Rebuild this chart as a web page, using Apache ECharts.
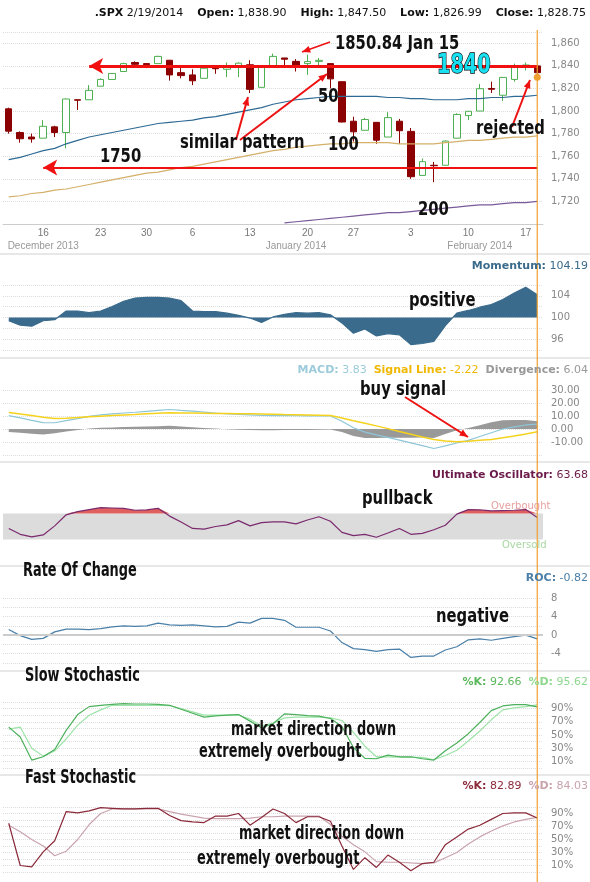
<!DOCTYPE html>
<html>
<head>
<meta charset="utf-8">
<script src="https://cdn.jsdelivr.net/npm/echarts@6/dist/echarts.min.js"></script>
<style>html,body{margin:0;padding:0;background:#fff}#chart{width:590px;height:882px}</style>
</head>
<body>
<div id="chart"></div>
<script>
// trading days
var dates = ['Dec 11','Dec 12','Dec 13','Dec 16','Dec 17','Dec 18','Dec 19','Dec 20','Dec 23','Dec 24','Dec 26','Dec 27','Dec 30','Dec 31',
  'Jan 2','Jan 3','Jan 6','Jan 7','Jan 8','Jan 9','Jan 10','Jan 13','Jan 14','Jan 15','Jan 16','Jan 17','Jan 21','Jan 22','Jan 23','Jan 24',
  'Jan 27','Jan 28','Jan 29','Jan 30','Jan 31','Feb 3','Feb 4','Feb 5','Feb 6','Feb 7','Feb 10','Feb 11','Feb 12','Feb 13','Feb 14','Feb 18','Feb 19'];
var dayLabels = {3:'16', 8:'23', 12:'30', 16:'6', 21:'13', 26:'20', 30:'27', 35:'3', 40:'10', 45:'17'};
var monthLabels = {3:'December 2013', 25:'January 2014', 41:'February 2014'};

// open, close, low, high
var ohlc = [
  [1802,1782.2,1780,1803],[1781,1775.5,1772,1782],[1777,1775.3,1772,1780],[1776,1786.5,1776,1792],[1786,1781,1777,1787],
  [1781,1810.7,1767,1811],[1810,1809.6,1801,1810],[1810,1818.3,1810,1823],[1822,1828,1822,1829],[1828,1833.3,1828,1833.6],
  [1835,1842,1835,1842.8],[1843,1841.4,1839,1844],[1842,1841.1,1838,1842],[1842,1848.4,1842,1849],[1845,1832,1827,1845],
  [1834,1831.4,1829,1838],[1832,1826.8,1823,1837],[1829,1837.9,1829,1840],[1838,1837.5,1833,1840],[1837,1838.5,1830,1843],
  [1840,1842.4,1830,1843],[1841,1819.2,1816,1845],[1821,1838.9,1821,1839],[1840,1848.4,1840,1850.8],[1847,1845.9,1840,1847],
  [1844,1838.7,1835,1846],[1842,1843.8,1832,1850],[1844,1844.9,1840,1847],[1842,1828.5,1820,1842],[1826,1790.3,1790,1826],
  [1791,1781.6,1773,1795],[1783,1792.5,1783,1794],[1790,1774.2,1771,1790],[1777,1794.2,1777,1799],[1791,1782.6,1771,1793],
  [1782,1741.9,1740,1785],[1743,1755.2,1743,1758],[1752,1751.6,1737,1755],[1752,1773.4,1752,1774],[1776,1797,1776,1798],
  [1796,1799.8,1792,1800],[1800,1819.8,1800,1824],[1820,1819.3,1816,1826],[1814,1829.8,1809,1830],[1828,1838.6,1826,1842],
  [1839,1840.8,1836,1843],[1840,1834,1830,1841]
];
var ma50 = [1757,1759,1762,1765,1767,1771,1774,1777,1779,1781,1783,1785,1787,1789,1790,1791,1792,1794,1795,1797,1799,1801,1803,1806,1808,1810,1811,1812,1813,1813,1813,1813,1813,1812,1812,1811,1811,1810,1810,1810,1811,1811,1812,1812,1813,1813,1814];
var ma100 = [1724,1725,1727,1728,1730,1731,1733,1735,1737,1739,1741,1743,1745,1746,1748,1750,1751,1753,1755,1757,1759,1761,1763,1765,1766,1768,1769,1770,1771,1771,1772,1772,1772,1772,1771,1771,1771,1771,1772,1773,1774,1774,1775,1776,1777,1777,1778];
var ma200 = [null,null,null,null,null,null,null,null,null,null,null,null,null,null,null,null,null,null,null,null,null,null,null,null,
  1701,1702,1703,1704,1705,1706,1707,1708,1709,1710,1710,1711,1712,1713,1714,1715,1716,1717,1717,1718,1719,1719,1720];
var priceTicks = [1720,1740,1760,1780,1800,1820,1840,1860];

var momentum = [99.4,98.6,98.4,99.4,99.6,101.2,101.2,100.9,101.2,102,103,103.6,103.7,103.7,103.6,103.1,101.2,101.1,101.1,100.8,100.4,99.9,99.1,100.1,100.6,100.9,100.8,100.9,100.5,99.0,97.1,97.9,96.6,97.0,96.8,95.0,95.2,95.6,98.5,100.8,101.3,101.9,102.4,103.3,104.5,105.6,104.2];
var macd = [10.3,8.6,6.6,4.9,4.8,6.4,8,9.7,10.8,11.6,12.3,12.9,13.6,14.3,15,14.3,13.7,13,12.3,11.7,11.3,10.9,10.5,10.3,10.3,10.2,10.1,10.1,10,6,1,-2.4,-4.5,-6.5,-8.6,-10.7,-12.8,-15,-13,-10.8,-8.7,-5.8,-2.9,0,1.6,3.1,3.8];
var signal = [12.7,11.5,10.3,9.1,8,8.3,8.8,9.4,9.9,10.4,10.8,11.2,11.7,12.1,12.5,12.4,12.3,12.2,12,11.9,11.8,11.7,11.5,11.3,11.1,11,10.8,10.6,10.4,8.4,6.4,4.5,2.4,0.3,-1.9,-4,-6.2,-8,-9.2,-9.8,-9.5,-8.7,-8,-6.7,-5.3,-3.8,-2.2];
var divergence = [-2.4,-2.9,-3.7,-4.2,-3.2,-1.9,-0.8,0.3,0.9,1.2,1.5,1.7,1.9,2.2,2.5,1.9,1.4,0.8,0.3,-0.2,-0.5,-0.8,-1,-1,-0.8,-0.8,-0.7,-0.5,-0.4,-2.4,-5.4,-6.9,-6.9,-6.8,-6.7,-6.7,-6.6,-7,-3.8,-1,0.8,2.9,5.1,6.7,6.9,6.9,6.0];
var ultimate = [47,38,34,37,51,68,73,76,79,78.5,78,75,75.5,78,66,57,47,46,50,52.5,59,51,56,57,57,54,60,65,58,41,36,38,33.5,40,47,38,39.5,45,52,69,76,75.5,74,74.5,75,76,64];
var roc = [1.2,-0.1,-0.9,-0.7,0.7,1.3,1.3,1.2,1.4,1.8,2,1.9,2,2.6,2.2,2.1,2.2,2,1.8,1.9,2.8,2.6,3.6,3.6,3.2,1.7,1.7,1.7,0.9,-1.6,-2.9,-3.1,-3.5,-3.1,-3,-4.8,-4.5,-4.5,-3.2,-2.5,-1,-0.8,-1.1,-0.7,-0.3,0,-0.8];
var slowK = [62,47,12,17,28,57,81,93,95,96.5,97.5,97,97,96.5,95,89,83,77,79,80,81,71,61,67,82,81,79.5,78.5,75,63,31,14.5,14,19.5,17,17,14,12,26,38,52,69,87,94,96,96,92.7];
var slowD = [59,62,30,18,26,44,65,80,88,95,95,95,95,95,94.5,90,85,80,80,80,80,74,64,68,76,77,77,77,76,72,54,33,17,17,16.5,16,16,12.5,19,27,41,56,73,88,91,93,95.6];
var fastK = [75,10,8,31,48,93,91,94,99,98,97,97,98,98,87,79,77,76,86,86,90,72,84,97,90,76,85,85,78,40,4,22,7,26,15,2,13,15,42,54,66,72,81,90,91,91,83];
var fastD = [72,62,50,40,25,32,50,73,90,97,97,97,97,97,93,89,86,83,82,82,82,83,85,85,86,86,86,86,73,55,42,31,16,15,15,14,13,14,22,30,43,54,63,71,77,81,84];

var chart = echarts.init(document.getElementById('chart'));
var LEFT = 3, RIGHT = 47;
var grids = [
  {top: 32, height: 192}, {top: 285, height: 65}, {top: 390, height: 65}, {top: 494, height: 65},
  {top: 598, height: 65}, {top: 702, height: 66}, {top: 807, height: 65}
];
var labelStyle = {color: '#888', fontSize: 10, fontFamily: 'Verdana, DejaVu Sans', margin: 8};
var split = {show: true, lineStyle: {color: '#ddd', type: 'dotted'}};

var xAxes = grids.map(function (g, i) {
  return {type: 'category', gridIndex: i, data: dates, boundaryGap: true,
    axisLine: {show: i === 0, lineStyle: {color: '#ccc'}}, axisTick: {show: false},
    axisLabel: {show: i === 0, color: '#777', fontSize: 10, interval: 0, margin: 4,
      formatter: function (v, idx) { return dayLabels[idx] || ''; }}};
});
xAxes.push({type: 'category', gridIndex: 0, data: dates, position: 'bottom', offset: 13,
  axisLine: {show: false}, axisTick: {show: false},
  axisLabel: {color: '#999', fontSize: 10, interval: 0, margin: 4, formatter: function (v, idx) { return monthLabels[idx] || ''; }}});

function yAx(i, o) {
  return Object.assign({type: 'value', gridIndex: i, position: 'right', scale: true,
    axisLine: {show: false}, axisTick: {show: false}, splitLine: split,
    axisLabel: labelStyle}, o);
}
var yAxes = [
  yAx(0, {min: 1700, max: 1870, interval: 20, axisLabel: Object.assign({}, labelStyle, {
    formatter: function (v) { return priceTicks.indexOf(v) < 0 ? '' : String(v).replace(/(\d)(\d{3})$/, '$1,$2'); }})}),
  yAx(1, {min: 94, max: 106, interval: 2, axisLabel: Object.assign({}, labelStyle, {formatter: function (v) { return v % 4 === 0 ? v : ''; }})}),
  yAx(2, {min: -20, max: 30, interval: 10, axisLabel: Object.assign({}, labelStyle, {formatter: function (v) { return v === -20 ? '' : v.toFixed(2); }})}),
  yAx(3, {min: 0, max: 100, interval: 10, splitLine: {show: false}, axisLabel: {show: false}}),
  yAx(4, {min: -6, max: 8, interval: 2, axisLabel: Object.assign({}, labelStyle, {formatter: function (v) { return v % 4 === 0 ? v : ''; }})}),
  yAx(5, {min: 0, max: 100, interval: 10, axisLabel: Object.assign({}, labelStyle, {formatter: function (v) { return (v / 10) % 2 === 1 ? v + '%' : ''; }})}),
  yAx(6, {min: 0, max: 100, interval: 10, axisLabel: Object.assign({}, labelStyle, {formatter: function (v) { return (v / 10) % 2 === 1 ? v + '%' : ''; }})})
];

function line(i, data, color, extra) {
  return Object.assign({type: 'line', xAxisIndex: i, yAxisIndex: i, data: data, symbol: 'none',
    lineStyle: {color: color, width: 1.2}, itemStyle: {color: color}, silent: true}, extra);
}

var series = [
  {type: 'candlestick', xAxisIndex: 0, yAxisIndex: 0, data: ohlc, barWidth: 7,
    itemStyle: {color: '#fff', color0: '#8b0000', borderColor: '#4caf50', borderColor0: '#8b0000', borderWidth: 1},
    markLine: {silent: true, symbol: ['arrow', 'none'], symbolSize: [12, 14], label: {show: false},
      lineStyle: {color: '#f01010', width: 3, type: 'solid'},
      data: [
        [{coord: [dates[7], 1840]}, {coord: [dates[46], 1840]}],
        [{coord: [dates[3], 1750], lineStyle: {width: 2}}, {coord: [dates[46], 1750]}]
      ]}},
  line(0, ma50, '#2e6a94'),
  line(0, ma100, '#d4b06a'),
  line(0, ma200, '#7a5a9a'),
  line(1, momentum, '#3a6b8c', {areaStyle: {color: '#3a6b8c', opacity: 1, origin: 100}}),
  line(2, divergence, '#999', {lineStyle: {width: 0}, areaStyle: {color: '#999', opacity: 1, origin: 0}}),
  line(2, macd, '#8ec6d8'),
  line(2, signal, '#f5d21c', {lineStyle: {color: '#f5d21c', width: 1.5}}),
  line(3, ultimate.map(function (v) { return Math.max(v, 70); }), '#e06060',
    {lineStyle: {width: 0}, areaStyle: {color: '#e06060', opacity: 1, origin: 70}}),
  line(3, ultimate, '#7b2a6e', {markArea: {silent: true, itemStyle: {color: '#dcdcdc'}, data: [[{yAxis: 30}, {yAxis: 70}]]}}),
  line(4, roc, '#4a7fa8', {markLine: {silent: true, symbol: 'none', label: {show: false},
    lineStyle: {color: '#ccc', width: 2, type: 'solid'}, data: [{yAxis: 0}]}}),
  line(5, slowD, '#9de3a8'),
  line(5, slowK, '#4cb05c'),
  line(6, fastD, '#c9a3ad'),
  line(6, fastK, '#8b2a3a')
];

// bold condensed annotation text (squeezed horizontally to mimic the narrow poster font)
var ann = "'DejaVu Sans', sans-serif";
function txt(x, y, s, size, extra, sx) {
  return {type: 'text', x: x, y: y, scaleX: sx || 0.74, silent: true, z: 100,
    style: Object.assign({text: s, font: 'bold ' + size + 'px ' + ann, fill: '#111'}, extra)};
}
function rtxt(y, s, fill) {
  return {type: 'text', right: 2, top: y, silent: true, z: 100,
    style: {text: s, font: '11px Verdana, DejaVu Sans', fill: fill, rich: rich}};
}
var rich = {
  b: {font: 'bold 11px Verdana, DejaVu Sans'},
  mb: {font: 'bold 11px Verdana, DejaVu Sans', fill: '#3a6b8c'}, m: {fill: '#3a6b8c'},
  cb: {font: 'bold 11px Verdana, DejaVu Sans', fill: '#9ccbdb'}, c: {fill: '#9ccbdb'},
  sb: {font: 'bold 11px Verdana, DejaVu Sans', fill: '#f0b800'}, s: {fill: '#f0b800'},
  db: {font: 'bold 11px Verdana, DejaVu Sans', fill: '#999'}, d: {fill: '#999'},
  ub: {font: 'bold 11px Verdana, DejaVu Sans', fill: '#6b1a4a'}, u: {fill: '#6b1a4a'},
  rb: {font: 'bold 11px Verdana, DejaVu Sans', fill: '#4a7fa8'}, r: {fill: '#4a7fa8'},
  kb: {font: 'bold 11px Verdana, DejaVu Sans', fill: '#5cb85c'}, k: {fill: '#5cb85c'},
  gb: {font: 'bold 11px Verdana, DejaVu Sans', fill: '#8fd88f'}, g: {fill: '#8fd88f'},
  fb: {font: 'bold 11px Verdana, DejaVu Sans', fill: '#8b2a3a'}, f: {fill: '#8b2a3a'},
  pb: {font: 'bold 11px Verdana, DejaVu Sans', fill: '#c9a3ad'}, p: {fill: '#c9a3ad'}
};
function arrow(x1, y1, x2, y2, w) {
  var a = Math.atan2(y2 - y1, x2 - x1), L = 9, s = 0.4;
  return [
    {type: 'line', silent: true, z: 99, shape: {x1: x1, y1: y1, x2: x2, y2: y2}, style: {stroke: '#ee1111', lineWidth: w || 2}},
    {type: 'polygon', silent: true, z: 99, shape: {points: [[x2, y2],
      [x2 - L * Math.cos(a - s), y2 - L * Math.sin(a - s)], [x2 - L * Math.cos(a + s), y2 - L * Math.sin(a + s)]]},
      style: {fill: '#ee1111'}}
  ];
}
function hline(y) {
  return {type: 'line', silent: true, shape: {x1: 0, y1: y, x2: 590, y2: y}, style: {stroke: '#d0d0d0', lineWidth: 1}};
}

var graphics = [
  {type: 'text', right: 4, top: 8, silent: true, style: {
    text: '{b|.SPX} 2/19/2014    {b|Open:} 1,838.90    {b|High:} 1,847.50    {b|Low:} 1,826.99    {b|Close:} 1,828.75',
    font: '11px Verdana, DejaVu Sans', fill: '#111', rich: rich}},
  hline(254), hline(358), hline(462), hline(566), hline(671), hline(775),
  txt(335, 34, '1850.84 Jan 15', 20),
  txt(437, 53, '1840', 26, {fill: '#18e0f0', stroke: '#000', lineWidth: 1.5}),
  txt(100, 147, '1750', 20), txt(318, 87, '50', 20), txt(328, 135, '100', 20), txt(418, 200, '200', 20),
  txt(180, 133, 'similar pattern', 20), txt(476, 119, 'rejected', 20),
  rtxt(261, '{mb|Momentum:} {m|104.19}'),
  txt(409, 291, 'positive', 20),
  rtxt(365, '{cb|MACD:} {c|3.83}  {sb|Signal Line:} {s|-2.22}  {db|Divergence:} {d|6.04}'),
  txt(360, 380, 'buy signal', 20),
  rtxt(470, '{ub|Ultimate Oscillator:} {u|63.68}'),
  txt(362, 489, 'pullback', 20),
  {type: 'text', left: 491, top: 501, silent: true, z: 100, style: {text: 'Overbought', font: '10px Verdana, DejaVu Sans', fill: '#e8a0a0'}},
  {type: 'text', left: 502, top: 540, silent: true, z: 100, style: {text: 'Oversold', font: '10px Verdana, DejaVu Sans', fill: '#a8d8a0'}},
  txt(23, 562, 'Rate Of Change', 19, null, 0.68),
  rtxt(573, '{rb|ROC:} {r|-0.82}'),
  txt(436, 607, 'negative', 20),
  txt(25, 667, 'Slow Stochastic', 19, null, 0.68),
  rtxt(677, '{kb|%K:} {k|92.66}  {gb|%D:} {g|95.62}'),
  txt(231, 721, 'market direction down', 19, null, 0.68), txt(199, 743, 'extremely overbought', 19, null, 0.68),
  txt(25, 769, 'Fast Stochastic', 19, null, 0.68),
  rtxt(781, '{fb|%K:} {f|82.89}  {pb|%D:} {p|84.03}'),
  txt(239, 825, 'market direction down', 19, null, 0.68), txt(197, 850, 'extremely overbought', 19, null, 0.68)
].concat(arrow(330, 42, 302, 52, 1.5), arrow(236, 140, 248, 97), arrow(240, 140, 327, 74),
  arrow(512, 127, 530, 80), arrow(405, 397, 468, 437));

chart.setOption({
  animation: false,
  grid: grids.map(function (g) { return {left: LEFT, right: RIGHT, top: g.top, height: g.height}; }),
  xAxis: xAxes,
  yAxis: yAxes,
  series: series,
  graphic: graphics
});

// orange cursor line at the last session, spanning all panels
var cx = chart.convertToPixel({xAxisIndex: 0}, dates[dates.length - 1]);
var cy = chart.convertToPixel({yAxisIndex: 0}, 1830);
graphics.push({type: 'line', silent: true, z: 98, shape: {x1: cx, y1: 30, x2: cx, y2: 882}, style: {stroke: '#f0a030', lineWidth: 1.2}});
graphics.push({type: 'circle', silent: true, z: 101, shape: {cx: cx, cy: cy, r: 3.5}, style: {fill: '#f0a030'}});
chart.setOption({graphic: graphics});
</script>
</body>
</html>
